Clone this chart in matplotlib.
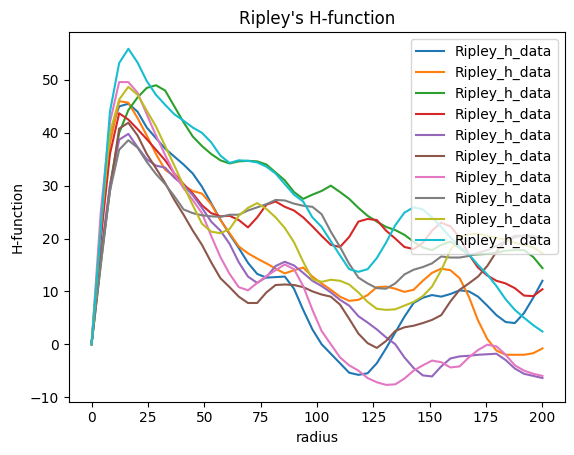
import numpy as np
import matplotlib
matplotlib.use("Agg")
import matplotlib.pyplot as plt

radius = np.linspace(0, 200, 50)

s_blue = [0, 20, 40, 45, 45.5, 44, 41, 39, 37, 35.5, 34, 32.3, 29.8, 26.7, 23.6, 20.8, 18.2, 15.4, 13.3, 12.6,
          12.7, 12.8, 10.5, 6.5, 2.8, 0, -1.8, -3.6, -5.4, -5.8, -5.5, -3.6, -0.8, 2.2, 5.2, 7.8, 8.8, 9.3, 9.0, 9.5,
          10.2, 10.0, 9.0, 7.3, 5.5, 4.2, 4.0, 5.9, 8.8, 12]
s_orange = [0, 21, 38, 46, 45.7, 42.8, 39.5, 36, 33, 31.8, 30, 29, 28.5, 26.5, 23.5, 21, 18.5, 17.2, 16.2, 15.3,
            14.3, 13.4, 14, 14.5, 12.8, 11.5, 10.3, 9, 8.2, 8.4, 9.3, 10.8, 10.9, 10.5, 9.9, 10.3, 12, 13.5, 14.3, 14,
            12.5, 9, 4.5, 1, -1.2, -2, -2, -2, -1.7, -0.8]
s_green = [0, 15, 30, 40, 44.3, 46.7, 48.5, 49, 48, 45, 42, 39.3, 37.5, 36, 34.8, 34.2, 34.6, 34.7, 34.6, 34,
           32.5, 31, 28.8, 27.5, 28.3, 29, 30, 28.8, 27.5, 25.8, 24.3, 23.2, 22.2, 21.6, 20.7, 19.4, 18.3, 17.8, 18.8, 19.4,
           18.2, 16.9, 17, 17.1, 17.3, 17.7, 17.8, 17.8, 16.5, 14.4]
s_red = [0, 20, 36, 43.7, 42.5, 40.7, 38.8, 36.8, 34.8, 32.3, 30.3, 28.5, 26.3, 24.8, 24.2, 24.3, 23.5, 22.1, 24, 26.4,
         27, 26, 25.3, 24, 22.3, 20.5, 18.8, 18.4, 20.3, 23.2, 23.7, 23.5, 21.5, 20, 18.4, 18, 19.2, 21.5, 23, 22.3,
         20.2, 17, 14.5, 13, 12, 11.5, 10.6, 9.2, 9.1, 10.4]
s_purple = [0, 17, 30, 38.7, 39.8, 37.3, 35, 33.8, 33.4, 31.5, 30.1, 28.2, 25.8, 23.2, 21.5, 19, 15.5, 12.8, 11.6, 12.7,
            14.8, 15.6, 14.9, 13.5, 12, 11, 9.8, 8.4, 7.3, 5.3, 4.1, 2.8, 1.3, 0, -2.5, -4.5, -5.9, -6.1, -4.2, -2.7,
            -2.3, -2.2, -2, -1.9, -1.8, -3, -4.6, -5.6, -6, -6.4]
s_brown = [0, 16, 29, 40.8, 41.9, 39.5, 36, 33.3, 30.5, 27.3, 24.5, 21.5, 18.8, 15.5, 12.5, 10.8, 9, 7.8, 7.8, 9.8,
           11.2, 11.3, 11.2, 10.8, 10, 9.4, 9, 7.5, 4.8, 2, 0.2, -0.7, 0.6, 2.5, 3.2, 3.5, 4, 4.6, 5.5, 8.1,
           10.3, 11.5, 12.8, 14.8, 17.5, 19.5, 20.5, 20.5, 20.3, 20.2]
s_pink = [0, 25, 42, 49.6, 49.6, 47.6, 43.5, 39.5, 35.8, 32.3, 29.5, 27.3, 24.8, 20.5, 16.5, 13.3, 10.8, 10.2, 11.6, 12.9,
          14, 15.1, 14.2, 11, 6.5, 2.5, 0, -2.5, -4, -5, -6.4, -7.2, -7.7, -7.6, -6.5, -5, -4, -3.1, -3.4, -4.4,
          -4.2, -2.5, -1.1, -0.1, -0.4, -2, -4, -5, -5.6, -6]
s_grey = [0, 15, 29, 36.8, 38.6, 37.2, 34.5, 32.2, 30.3, 28, 25.5, 24.8, 24.4, 24.2, 24.1, 24.5, 24.5, 25.3, 25.9, 26.5,
          27.3, 27.2, 26.6, 26.2, 26, 24.6, 21.3, 18.4, 15.2, 12.6, 11.5, 10.6, 10.5, 11.5, 13.2, 14.1, 14.6, 15.3, 16.6, 16.4,
          16.4, 16.7, 17.3, 17.8, 18.6, 19.5, 20.2, 20.6, 20.5, 20]
s_olive = [0, 22, 40, 46.3, 48.7, 47.2, 44.2, 41.2, 37.5, 33.8, 30, 26.3, 22.8, 21.3, 21, 21.8, 24.3, 25.8, 26.7, 25.6,
           24, 22, 19.3, 15.6, 12.3, 11.8, 12.2, 12, 11.3, 9.8, 8, 6.7, 6.5, 6.6, 7.3, 8, 9.1, 10.9, 14, 17.8,
           20.3, 20.8, 20.9, 20.5, 20.1, 19.8, 19.2, 18.8, 18.3, 17.2]
s_cyan = [0, 22, 44, 53.2, 55.9, 53.3, 49.8, 47.2, 45.3, 43.5, 42.3, 41, 40, 38.2, 35.7, 34.3, 34.8, 34.7, 34.4, 33.6,
          32.3, 30.3, 28.3, 27, 24, 22.2, 19.5, 16.8, 14.2, 13.7, 14.2, 16.3, 19.2, 22.5, 24.9, 25.9, 25.5, 24, 22.2, 20.2,
          18.5, 17, 15, 13.2, 11, 8.5, 6.5, 5, 3.6, 2.4]

series = [s_blue, s_orange, s_green, s_red, s_purple, s_brown, s_pink, s_grey, s_olive, s_cyan]
label = "Ripley_h_data"

fig = plt.figure(figsize=(5.74, 4.55), dpi=100)
ax = fig.add_axes([69 / 574, 1 - 401.7 / 455, (565 - 69) / 574, (401.7 - 32) / 455])
for s in series:
    ax.plot(radius, s, label=label)
ax.set_title("Ripley's H-function")
ax.set_xlabel("radius")
ax.set_ylabel("H-function")
ax.legend(loc="upper right")
fig.savefig("out.png", dpi=100)
